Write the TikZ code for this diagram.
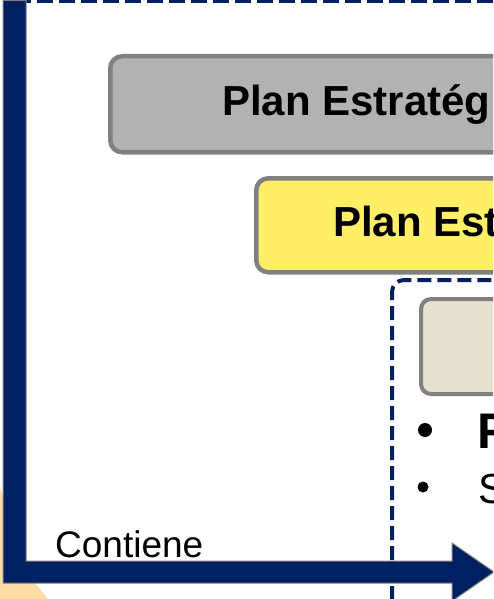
\documentclass[tikz,border=0pt]{standalone}
\usepackage{fontspec}
\setmainfont{Liberation Sans}
\definecolor{navy}{HTML}{002060}
\definecolor{boxgray}{HTML}{B2B2B2}
\definecolor{edgegray}{HTML}{808080}
\definecolor{boxyellow}{HTML}{FFEF66}
\definecolor{boxbeige}{HTML}{E6E0D0}
\definecolor{paleorange}{HTML}{FCDCA8}
\tikzset{
  planbox/.style={draw=edgegray, line width=4.5pt, rounded corners=12pt, anchor=north west, inner sep=0pt},
  navydash/.style={draw=navy, dash pattern=on 14pt off 6pt},
  bigtext/.style={font=\bfseries\fontsize{42}{50}\selectfont, anchor=base west, inner sep=0pt},
}
\begin{document}
\begin{tikzpicture}[x=1pt,y=-1pt]
\useasboundingbox (0,0) rectangle (493,599);
\clip (0,0) rectangle (493,599);
% background pale shape
\fill[paleorange] (0,488) -- (35,583) -- (48,599) -- (0,599) -- cycle;
% top dashed frame edge
\draw[navy, line width=7pt, dash pattern=on 16pt off 6pt] (15,0) -- (560,0);
% boxes
\node[planbox, fill=boxgray, minimum width=500pt, minimum height=96pt] (gray) at (108,54) {};
\node[bigtext] (graytext) at (222,115) {Plan Estratég};
\node[planbox, fill=boxyellow, minimum width=400pt, minimum height=94pt] (yellow) at (254,176) {};
\node[bigtext] (yellowtext) at (333,236) {Plan Est};
% dashed container
\draw[navydash, line width=4pt, rounded corners=12pt] (392,640) -- (392,280) -- (560,280);
\node[planbox, line width=4pt, rounded corners=10pt, fill=boxbeige, minimum width=200pt, minimum height=95pt] (beige) at (419,297) {};
% bullets
\fill (425,430) circle (7pt);
\node[font=\bfseries\fontsize{50}{60}\selectfont, anchor=base west, inner sep=0pt] (itemF) at (477,448) {F};
\fill (423,487) circle (5.5pt);
\node[font=\fontsize{42}{50}\selectfont, anchor=base west, inner sep=0pt] (itemS) at (478,503) {S};
% L-shaped arrow
\filldraw[fill=navy, draw=edgegray, line width=1pt]
  (3,0.5) -- (26,0.5) -- (26,561) -- (452,561) -- (452,543) -- (494,572)
  -- (452,601) -- (452,583) -- (3,583) -- cycle;
\node[font=\fontsize{37}{44}\selectfont, anchor=base west, inner sep=0pt] (contiene) at (55,557) {Contiene};
\end{tikzpicture}
\end{document}
